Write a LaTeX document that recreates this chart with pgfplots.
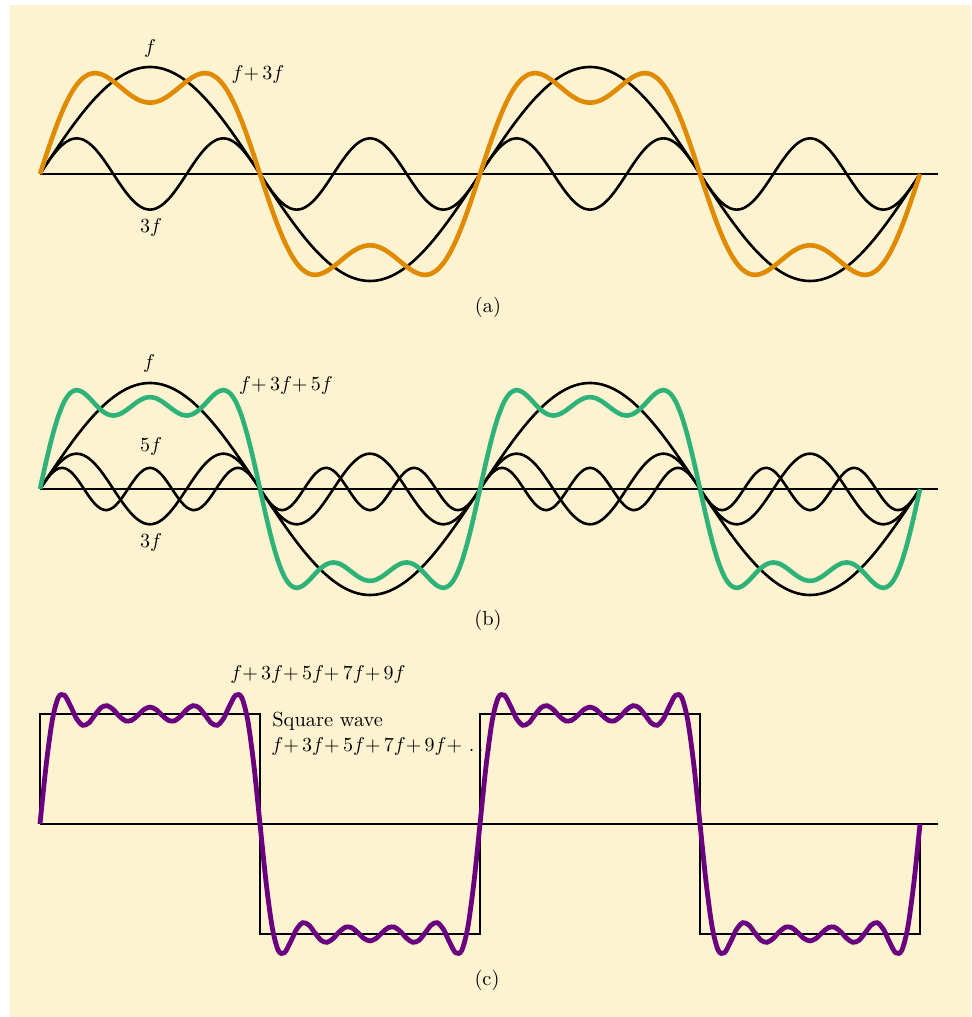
\documentclass[border=0pt]{standalone}
\usepackage{pgfplots}
\pgfplotsset{compat=1.18}
\usepackage{pgfplotstable}

\definecolor{cream}{RGB}{254,243,208}
\definecolor{orng}{RGB}{224,138,0}
\definecolor{grn}{RGB}{46,178,120}
\definecolor{purp}{RGB}{106,0,128}

% x in degrees; s1 = f, t3 = 3f, t5 = 5f, S3 = f+3f, S5 = f+3f+5f, S9 = f+...+9f
\pgfplotstableread{
x s1 t3 t5 S3 S5 S9
0 0 0 0 0 0 0
5 0.0872 0.0863 0.0845 0.1734 0.2580 0.4185
10 0.1736 0.1667 0.1532 0.3403 0.4935 0.7389
15 0.2588 0.2357 0.1932 0.4945 0.6877 0.9043
20 0.3420 0.2887 0.1970 0.6307 0.8277 0.9195
25 0.4226 0.3220 0.1638 0.7446 0.9084 0.8423
30 0.5000 0.3333 0.1000 0.8333 0.9333 0.7508
35 0.5736 0.3220 0.0174 0.8956 0.9130 0.7050
40 0.6428 0.2887 -0.0684 0.9315 0.8631 0.7224
45 0.7071 0.2357 -0.1414 0.9428 0.8014 0.7789
50 0.7660 0.1667 -0.1879 0.9327 0.7448 0.8311
55 0.8192 0.0863 -0.1992 0.9054 0.7062 0.8451
60 0.8660 0.0000 -0.1732 0.8660 0.6928 0.8165
65 0.9063 -0.0863 -0.1147 0.8200 0.7053 0.7691
70 0.9397 -0.1667 -0.0347 0.7730 0.7383 0.7366
75 0.9659 -0.2357 0.0518 0.7302 0.7820 0.7404
80 0.9848 -0.2887 0.1286 0.6961 0.8247 0.7758
85 0.9962 -0.3220 0.1813 0.6742 0.8555 0.8170
90 1.0000 -0.3333 0.2000 0.6667 0.8667 0.8349
95 0.9962 -0.3220 0.1813 0.6742 0.8555 0.8170
100 0.9848 -0.2887 0.1286 0.6961 0.8247 0.7758
105 0.9659 -0.2357 0.0518 0.7302 0.7820 0.7404
110 0.9397 -0.1667 -0.0347 0.7730 0.7383 0.7366
115 0.9063 -0.0863 -0.1147 0.8200 0.7053 0.7691
120 0.8660 0.0000 -0.1732 0.8660 0.6928 0.8165
125 0.8192 0.0863 -0.1992 0.9054 0.7062 0.8451
130 0.7660 0.1667 -0.1879 0.9327 0.7448 0.8311
135 0.7071 0.2357 -0.1414 0.9428 0.8014 0.7789
140 0.6428 0.2887 -0.0684 0.9315 0.8631 0.7224
145 0.5736 0.3220 0.0174 0.8956 0.9130 0.7050
150 0.5000 0.3333 0.1000 0.8333 0.9333 0.7508
155 0.4226 0.3220 0.1638 0.7446 0.9084 0.8423
160 0.3420 0.2887 0.1970 0.6307 0.8277 0.9195
165 0.2588 0.2357 0.1932 0.4945 0.6877 0.9043
170 0.1736 0.1667 0.1532 0.3403 0.4935 0.7389
175 0.0872 0.0863 0.0845 0.1734 0.2580 0.4185
180 0 0 0 0 0 0
185 -0.0872 -0.0863 -0.0845 -0.1734 -0.2580 -0.4185
190 -0.1736 -0.1667 -0.1532 -0.3403 -0.4935 -0.7389
195 -0.2588 -0.2357 -0.1932 -0.4945 -0.6877 -0.9043
200 -0.3420 -0.2887 -0.1970 -0.6307 -0.8277 -0.9195
205 -0.4226 -0.3220 -0.1638 -0.7446 -0.9084 -0.8423
210 -0.5000 -0.3333 -0.1000 -0.8333 -0.9333 -0.7508
215 -0.5736 -0.3220 -0.0174 -0.8956 -0.9130 -0.7050
220 -0.6428 -0.2887 0.0684 -0.9315 -0.8631 -0.7224
225 -0.7071 -0.2357 0.1414 -0.9428 -0.8014 -0.7789
230 -0.7660 -0.1667 0.1879 -0.9327 -0.7448 -0.8311
235 -0.8192 -0.0863 0.1992 -0.9054 -0.7062 -0.8451
240 -0.8660 0.0000 0.1732 -0.8660 -0.6928 -0.8165
245 -0.9063 0.0863 0.1147 -0.8200 -0.7053 -0.7691
250 -0.9397 0.1667 0.0347 -0.7730 -0.7383 -0.7366
255 -0.9659 0.2357 -0.0518 -0.7302 -0.7820 -0.7404
260 -0.9848 0.2887 -0.1286 -0.6961 -0.8247 -0.7758
265 -0.9962 0.3220 -0.1813 -0.6742 -0.8555 -0.8170
270 -1.0000 0.3333 -0.2000 -0.6667 -0.8667 -0.8349
275 -0.9962 0.3220 -0.1813 -0.6742 -0.8555 -0.8170
280 -0.9848 0.2887 -0.1286 -0.6961 -0.8247 -0.7758
285 -0.9659 0.2357 -0.0518 -0.7302 -0.7820 -0.7404
290 -0.9397 0.1667 0.0347 -0.7730 -0.7383 -0.7366
295 -0.9063 0.0863 0.1147 -0.8200 -0.7053 -0.7691
300 -0.8660 0.0000 0.1732 -0.8660 -0.6928 -0.8165
305 -0.8192 -0.0863 0.1992 -0.9054 -0.7062 -0.8451
310 -0.7660 -0.1667 0.1879 -0.9327 -0.7448 -0.8311
315 -0.7071 -0.2357 0.1414 -0.9428 -0.8014 -0.7789
320 -0.6428 -0.2887 0.0684 -0.9315 -0.8631 -0.7224
325 -0.5736 -0.3220 -0.0174 -0.8956 -0.9130 -0.7050
330 -0.5000 -0.3333 -0.1000 -0.8333 -0.9333 -0.7508
335 -0.4226 -0.3220 -0.1638 -0.7446 -0.9084 -0.8423
340 -0.3420 -0.2887 -0.1970 -0.6307 -0.8277 -0.9195
345 -0.2588 -0.2357 -0.1932 -0.4945 -0.6877 -0.9043
350 -0.1736 -0.1667 -0.1532 -0.3403 -0.4935 -0.7389
355 -0.0872 -0.0863 -0.0845 -0.1734 -0.2580 -0.4185
360 0 0 0 0 0 0
365 0.0872 0.0863 0.0845 0.1734 0.2580 0.4185
370 0.1736 0.1667 0.1532 0.3403 0.4935 0.7389
375 0.2588 0.2357 0.1932 0.4945 0.6877 0.9043
380 0.3420 0.2887 0.1970 0.6307 0.8277 0.9195
385 0.4226 0.3220 0.1638 0.7446 0.9084 0.8423
390 0.5000 0.3333 0.1000 0.8333 0.9333 0.7508
395 0.5736 0.3220 0.0174 0.8956 0.9130 0.7050
400 0.6428 0.2887 -0.0684 0.9315 0.8631 0.7224
405 0.7071 0.2357 -0.1414 0.9428 0.8014 0.7789
410 0.7660 0.1667 -0.1879 0.9327 0.7448 0.8311
415 0.8192 0.0863 -0.1992 0.9054 0.7062 0.8451
420 0.8660 0.0000 -0.1732 0.8660 0.6928 0.8165
425 0.9063 -0.0863 -0.1147 0.8200 0.7053 0.7691
430 0.9397 -0.1667 -0.0347 0.7730 0.7383 0.7366
435 0.9659 -0.2357 0.0518 0.7302 0.7820 0.7404
440 0.9848 -0.2887 0.1286 0.6961 0.8247 0.7758
445 0.9962 -0.3220 0.1813 0.6742 0.8555 0.8170
450 1.0000 -0.3333 0.2000 0.6667 0.8667 0.8349
455 0.9962 -0.3220 0.1813 0.6742 0.8555 0.8170
460 0.9848 -0.2887 0.1286 0.6961 0.8247 0.7758
465 0.9659 -0.2357 0.0518 0.7302 0.7820 0.7404
470 0.9397 -0.1667 -0.0347 0.7730 0.7383 0.7366
475 0.9063 -0.0863 -0.1147 0.8200 0.7053 0.7691
480 0.8660 0.0000 -0.1732 0.8660 0.6928 0.8165
485 0.8192 0.0863 -0.1992 0.9054 0.7062 0.8451
490 0.7660 0.1667 -0.1879 0.9327 0.7448 0.8311
495 0.7071 0.2357 -0.1414 0.9428 0.8014 0.7789
500 0.6428 0.2887 -0.0684 0.9315 0.8631 0.7224
505 0.5736 0.3220 0.0174 0.8956 0.9130 0.7050
510 0.5000 0.3333 0.1000 0.8333 0.9333 0.7508
515 0.4226 0.3220 0.1638 0.7446 0.9084 0.8423
520 0.3420 0.2887 0.1970 0.6307 0.8277 0.9195
525 0.2588 0.2357 0.1932 0.4945 0.6877 0.9043
530 0.1736 0.1667 0.1532 0.3403 0.4935 0.7389
535 0.0872 0.0863 0.0845 0.1734 0.2580 0.4185
540 0 0 0 0 0 0
545 -0.0872 -0.0863 -0.0845 -0.1734 -0.2580 -0.4185
550 -0.1736 -0.1667 -0.1532 -0.3403 -0.4935 -0.7389
555 -0.2588 -0.2357 -0.1932 -0.4945 -0.6877 -0.9043
560 -0.3420 -0.2887 -0.1970 -0.6307 -0.8277 -0.9195
565 -0.4226 -0.3220 -0.1638 -0.7446 -0.9084 -0.8423
570 -0.5000 -0.3333 -0.1000 -0.8333 -0.9333 -0.7508
575 -0.5736 -0.3220 -0.0174 -0.8956 -0.9130 -0.7050
580 -0.6428 -0.2887 0.0684 -0.9315 -0.8631 -0.7224
585 -0.7071 -0.2357 0.1414 -0.9428 -0.8014 -0.7789
590 -0.7660 -0.1667 0.1879 -0.9327 -0.7448 -0.8311
595 -0.8192 -0.0863 0.1992 -0.9054 -0.7062 -0.8451
600 -0.8660 0.0000 0.1732 -0.8660 -0.6928 -0.8165
605 -0.9063 0.0863 0.1147 -0.8200 -0.7053 -0.7691
610 -0.9397 0.1667 0.0347 -0.7730 -0.7383 -0.7366
615 -0.9659 0.2357 -0.0518 -0.7302 -0.7820 -0.7404
620 -0.9848 0.2887 -0.1286 -0.6961 -0.8247 -0.7758
625 -0.9962 0.3220 -0.1813 -0.6742 -0.8555 -0.8170
630 -1.0000 0.3333 -0.2000 -0.6667 -0.8667 -0.8349
635 -0.9962 0.3220 -0.1813 -0.6742 -0.8555 -0.8170
640 -0.9848 0.2887 -0.1286 -0.6961 -0.8247 -0.7758
645 -0.9659 0.2357 -0.0518 -0.7302 -0.7820 -0.7404
650 -0.9397 0.1667 0.0347 -0.7730 -0.7383 -0.7366
655 -0.9063 0.0863 0.1147 -0.8200 -0.7053 -0.7691
660 -0.8660 0.0000 0.1732 -0.8660 -0.6928 -0.8165
665 -0.8192 -0.0863 0.1992 -0.9054 -0.7062 -0.8451
670 -0.7660 -0.1667 0.1879 -0.9327 -0.7448 -0.8311
675 -0.7071 -0.2357 0.1414 -0.9428 -0.8014 -0.7789
680 -0.6428 -0.2887 0.0684 -0.9315 -0.8631 -0.7224
685 -0.5736 -0.3220 -0.0174 -0.8956 -0.9130 -0.7050
690 -0.5000 -0.3333 -0.1000 -0.8333 -0.9333 -0.7508
695 -0.4226 -0.3220 -0.1638 -0.7446 -0.9084 -0.8423
700 -0.3420 -0.2887 -0.1970 -0.6307 -0.8277 -0.9195
705 -0.2588 -0.2357 -0.1932 -0.4945 -0.6877 -0.9043
710 -0.1736 -0.1667 -0.1532 -0.3403 -0.4935 -0.7389
715 -0.0872 -0.0863 -0.0845 -0.1734 -0.2580 -0.4185
720 0 0 0 0 0 0
}\waves

\pgfplotsset{
  wave/.style={hide axis, clip=false, anchor=origin,
    x={(0.61111pt,0pt)}, xmin=0, xmax=734.7, ymin=-1.2, ymax=1.2},
  blk/.style={black, line width=1.3pt, no marks, smooth},
  zero/.style={black, line width=0.8pt, no marks},
}

\begin{document}
\begin{tikzpicture}
  \path[use as bounding box] (0,0) rectangle (485.5pt,508.5pt);
  \fill[white] (0,0) rectangle (485.5pt,508.5pt);
  \fill[cream] (5pt,0) rectangle (485.5pt,506pt);

  % (a)
  \begin{axis}[wave, at={(20pt,421.5pt)}, y={(0pt,53.5pt)}]
    \addplot[zero] coordinates {(0,0) (734.7,0)};
    \addplot[blk] table[x=x, y=s1] {\waves};
    \addplot[blk] table[x=x, y=t3] {\waves};
    \addplot[orng, line width=2.3pt, no marks, smooth] table[x=x, y=S3] {\waves};
  \end{axis}

  % (b)
  \begin{axis}[wave, at={(20pt,264pt)}, y={(0pt,53pt)}]
    \addplot[zero] coordinates {(0,0) (734.7,0)};
    \addplot[blk] table[x=x, y=s1] {\waves};
    \addplot[blk] table[x=x, y=t3] {\waves};
    \addplot[blk] table[x=x, y=t5] {\waves};
    \addplot[grn, line width=2.3pt, no marks, smooth] table[x=x, y=S5] {\waves};
  \end{axis}

  % (c)
  \begin{axis}[wave, at={(20pt,96.5pt)}, y={(0pt,70pt)}]
    \addplot[zero] coordinates {(0,0) (734.7,0)};
    \addplot[black, line width=1.3pt, no marks] coordinates {
      (0,0) (0,0.7854) (180,0.7854) (180,-0.7854) (360,-0.7854)
      (360,0.7854) (540,0.7854) (540,-0.7854) (720,-0.7854) (720,0)};
    \addplot[purp, line width=2.4pt, no marks, smooth] table[x=x, y=S9] {\waves};
  \end{axis}

  \begin{scope}[every node/.style={inner sep=0pt, font=\fontsize{10.2}{12}\selectfont}]
    \node at (75pt,484pt) {$f$};
    \node at (129pt,471pt) {$f{+}\,3f$};
    \node at (75.5pt,394.5pt) {$3f$};
    \node at (244pt,355pt) {(a)};

    \node at (74.5pt,326.5pt) {$f$};
    \node at (143pt,315.5pt) {$f{+}\,3f{+}\,5f$};
    \node at (75.5pt,285pt) {$5f$};
    \node at (75.5pt,237pt) {$3f$};
    \node at (244pt,198.5pt) {(b)};

    \node at (159pt,171pt) {$f{+}\,3f{+}\,5f{+}\,7f{+}\,9f$};
    \node[anchor=base west] at (136pt,145pt) {Square wave};
    \node[anchor=base west] at (135.5pt,132.5pt) {$f{+}\,3f{+}\,5f{+}\,7f{+}\,9f{+}\,\ldots$};
    \node at (243.5pt,18.5pt) {(c)};
  \end{scope}
\end{tikzpicture}
\end{document}
